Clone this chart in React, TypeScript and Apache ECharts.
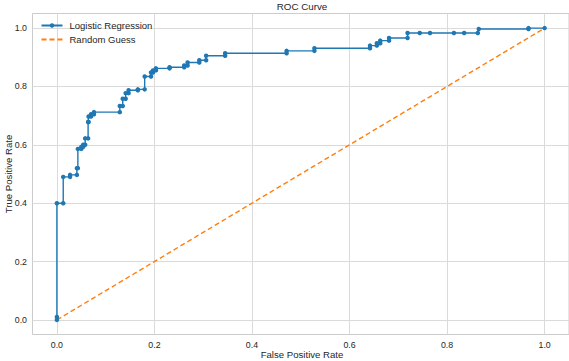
import React, { useEffect, useRef } from "react";
import * as echarts from "echarts";

const fpr = [0, 0, 0, 0.013, 0.013, 0.027, 0.027, 0.041, 0.041, 0.043, 0.043, 0.05, 0.05, 0.054, 0.054, 0.058, 0.058, 0.064, 0.064, 0.065, 0.065, 0.07, 0.07, 0.076, 0.076, 0.129, 0.129, 0.135, 0.135, 0.141, 0.141, 0.147, 0.147, 0.166, 0.166, 0.18, 0.18, 0.193, 0.193, 0.197, 0.197, 0.203, 0.203, 0.231, 0.231, 0.261, 0.261, 0.268, 0.268, 0.292, 0.292, 0.306, 0.306, 0.345, 0.345, 0.471, 0.471, 0.528, 0.528, 0.642, 0.642, 0.656, 0.656, 0.663, 0.663, 0.681, 0.681, 0.719, 0.719, 0.744, 0.765, 0.814, 0.835, 0.863, 0.865, 0.967, 0.967, 1.0];
const tpr = [0, 0.01, 0.4, 0.4, 0.49, 0.49, 0.497, 0.497, 0.52, 0.52, 0.586, 0.586, 0.593, 0.593, 0.6, 0.6, 0.622, 0.622, 0.678, 0.678, 0.697, 0.697, 0.705, 0.705, 0.712, 0.712, 0.733, 0.733, 0.758, 0.758, 0.777, 0.777, 0.787, 0.787, 0.79, 0.79, 0.834, 0.834, 0.848, 0.848, 0.855, 0.855, 0.862, 0.862, 0.866, 0.866, 0.872, 0.872, 0.882, 0.882, 0.89, 0.89, 0.905, 0.905, 0.914, 0.914, 0.922, 0.922, 0.931, 0.931, 0.94, 0.94, 0.948, 0.948, 0.957, 0.957, 0.966, 0.966, 0.983, 0.983, 0.983, 0.983, 0.983, 0.983, 0.997, 0.997, 1.0, 1.0];
const guessX = [0, 1];
const guessY = [0, 1];
const ticks = [0, 0.2, 0.4, 0.6, 0.8, 1.0];

const FONT = "'Liberation Sans', Arial, sans-serif";
const TXT = "#262626";

export default function App() {
  const ref = useRef<HTMLDivElement>(null);
  useEffect(() => {
    if (!ref.current) return;
    const chart = echarts.init(ref.current, undefined, { renderer: "svg" });
    const axisCommon = (margin: number) => ({
      type: "value",
      min: -0.05,
      max: 1.05,
      axisLine: { show: false },
      axisTick: { show: false, customValues: ticks },
      axisLabel: {
        customValues: ticks,
        formatter: (v: number) => v.toFixed(1),
        color: TXT,
        fontFamily: FONT,
        fontSize: 8.8,
        margin,
      },
      splitLine: { show: true, lineStyle: { color: "#dadada", width: 1 } },
    });
    chart.setOption({
      animation: false,
      backgroundColor: "#ffffff",
      grid: {
        left: 32.5,
        top: 13.5,
        width: 539,
        height: 321,
        show: true,
        borderColor: "#cccccc",
        borderWidth: 1,
        containLabel: false,
      },
      xAxis: axisCommon(6),
      yAxis: axisCommon(5.5),
      legend: {
        orient: "vertical",
        left: 40.5,
        top: 19.5,
        padding: 0,
        itemWidth: 21,
        itemHeight: 5.5,
        itemGap: 2,
        textStyle: { color: TXT, fontFamily: FONT, fontSize: 9.5, lineHeight: 12, padding: [0, 0, 0, 2] },
        data: [
          { name: "Logistic Regression" },
          { name: "Random Guess", itemStyle: { color: "rgba(0,0,0,0)", borderWidth: 0, opacity: 0 } },
        ],
      },
      graphic: [
        {
          type: "text",
          x: 302,
          y: 6,
          style: { text: "ROC Curve", fill: TXT, font: `9.8px ${FONT}`, align: "center", verticalAlign: "middle" },
        },
        {
          type: "text",
          x: 302,
          y: 354,
          style: { text: "False Positive Rate", fill: TXT, font: `9.6px ${FONT}`, align: "center", verticalAlign: "middle" },
        },
        {
          type: "text",
          x: 8,
          y: 174,
          rotation: Math.PI / 2,
          style: { text: "True Positive Rate", fill: TXT, font: `9.6px ${FONT}`, align: "center", verticalAlign: "middle" },
        },
      ],
      series: [
        {
          name: "Logistic Regression",
          type: "line",
          data: fpr.map((x, i) => [x, tpr[i]]),
          symbol: "circle",
          symbolSize: 4.5,
          showSymbol: true,
          color: "#1f77b4",
          lineStyle: { width: 1.4, color: "#1f77b4" },
          itemStyle: { color: "#1f77b4" },
          z: 3,
        },
        {
          name: "Random Guess",
          type: "line",
          data: guessX.map((x, i) => [x, guessY[i]]),
          symbol: "none",
          color: "#ff7f0e",
          lineStyle: { width: 1.4, color: "#ff7f0e", type: [5, 3] },
          z: 2,
        },
      ],
    });
    return () => chart.dispose();
  }, []);
  return <div ref={ref} style={{ width: 569, height: 361, position: "absolute", left: 0, top: 0 }} />;
}
